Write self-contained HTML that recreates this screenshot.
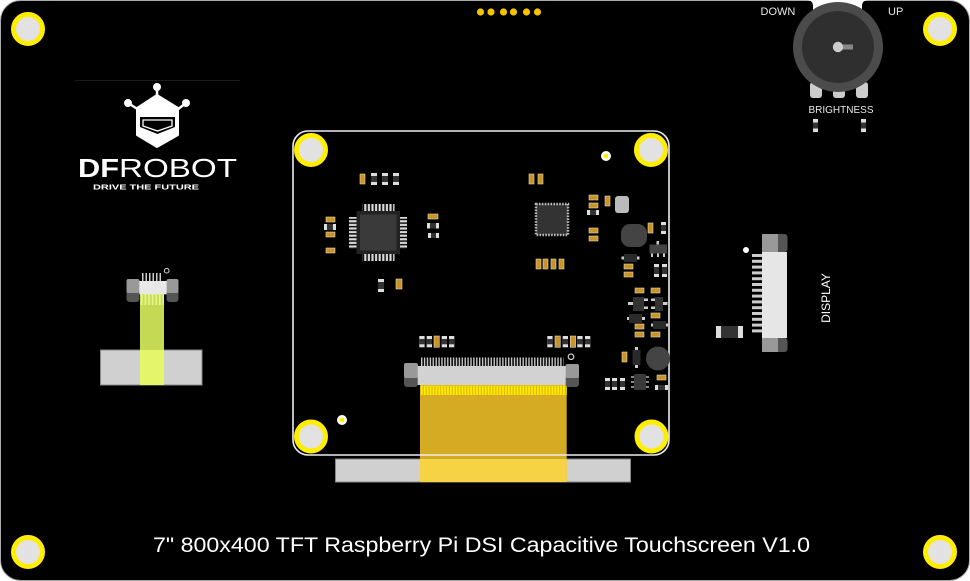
<!DOCTYPE html>
<html><head><meta charset="utf-8"><style>html,body{margin:0;padding:0;background:#fff}svg{display:block}</style></head><body>
<svg width="970" height="581" viewBox="0 0 970 581" xmlns="http://www.w3.org/2000/svg" font-family="'Liberation Sans', Arial, sans-serif">
<defs>
<pattern id="pv" x="0" y="0" width="3.6" height="40" patternUnits="userSpaceOnUse"><rect x="0.6" width="2.2" height="40" fill="#d8d8d8"/></pattern>
<pattern id="ph" x="0" y="0" width="40" height="3.6" patternUnits="userSpaceOnUse"><rect y="0.6" width="40" height="2.2" fill="#d8d8d8"/></pattern>
<pattern id="fp" x="421" y="0" width="2.9" height="20" patternUnits="userSpaceOnUse"><rect width="1.4" height="20" fill="#c8c8c8"/></pattern>
<pattern id="ys" x="421" y="0" width="2.9" height="20" patternUnits="userSpaceOnUse"><rect width="2.9" height="20" fill="#e0b800"/><rect width="1.7" height="20" fill="#ffee00"/></pattern>
<pattern id="gs" x="141" y="0" width="3.6" height="20" patternUnits="userSpaceOnUse"><rect width="3.6" height="20" fill="#c9dc55"/><rect width="1.6" height="20" fill="#e9f58a"/></pattern>
</defs>

<!-- board -->
<rect x="0.5" y="0.5" width="969" height="580" rx="20" fill="#000" stroke="#aaa" stroke-width="1"/>
<path d="M806,0 Q813,0 813,6 L813,14 L862,14 L862,6 Q862,0 869,0 Z" fill="#fff"/>

<!-- top dots -->
<g fill="#f5c400">
<circle cx="480.5" cy="12" r="3.6"/><circle cx="491" cy="12" r="3.6"/><circle cx="503.5" cy="12" r="3.6"/><circle cx="513.5" cy="12" r="3.6"/><circle cx="526.5" cy="12" r="3.6"/><circle cx="537.5" cy="12" r="3.6"/>
</g>

<!-- mounting holes -->
<g fill="#e2e2e2" stroke="#ffee00" stroke-width="5">
<circle cx="28" cy="29" r="14.5"/><circle cx="940" cy="29" r="14.5"/>
<circle cx="28" cy="552" r="14.5"/><circle cx="940" cy="552" r="14.5"/>
</g>

<!-- potentiometer -->
<g>
<rect x="810" y="82" width="12" height="16" rx="3" fill="#ccc"/>
<rect x="833" y="82" width="12" height="16" rx="3" fill="#ccc"/>
<rect x="856" y="82" width="12" height="16" rx="3" fill="#ccc"/>
<circle cx="838" cy="47" r="45" fill="#4b4b4b"/>
<circle cx="838" cy="47" r="36" fill="#2f2f2f"/>
<rect x="838" y="44.5" width="15" height="5" fill="#888"/>
<circle cx="838" cy="47" r="5.2" fill="#ccc"/>
</g>
<text x="760.5" y="15" font-size="11" fill="#e6e6e6">DOWN</text>
<text x="888" y="15" font-size="11" fill="#e6e6e6">UP</text>
<text x="841" y="113" font-size="10" fill="#e6e6e6" text-anchor="middle">BRIGHTNESS</text>
<rect x="813" y="119" width="5" height="13" fill="#ddd"/><rect x="813" y="122.5" width="5" height="6" fill="#333"/>
<rect x="861" y="119" width="5" height="13" fill="#ddd"/><rect x="861" y="122.5" width="5" height="6" fill="#333"/>

<!-- DFROBOT logo -->
<line x1="75" y1="80.5" x2="240" y2="80.5" stroke="#1c1c1c"/>
<g fill="#fff" stroke="#fff">
<line x1="157" y1="88" x2="157" y2="96" stroke-width="2.5"/>
<line x1="128" y1="103" x2="139" y2="110" stroke-width="2.5"/>
<line x1="186" y1="103" x2="177" y2="110" stroke-width="2.5"/>
<circle cx="157" cy="87" r="4" stroke="none"/>
<circle cx="128" cy="103" r="4" stroke="none"/>
<circle cx="186" cy="103" r="4" stroke="none"/>
<path d="M157,95 L178,108 L178,135 L157,147 L137,135 L137,108 Z" stroke-width="2" stroke-linejoin="round"/>
</g>
<path d="M140,117 H175 V127 L157.5,134 L140,127 Z" fill="#000"/>
<path d="M143,120 H172 V126 L157.5,131 L143,126 Z" fill="none" stroke="#fff" stroke-width="1.3"/>
<text x="78" y="177" font-size="26" font-weight="bold" fill="#fff" textLength="41" lengthAdjust="spacingAndGlyphs">DF</text>
<text x="119" y="177" font-size="26" fill="#fff" textLength="118" lengthAdjust="spacingAndGlyphs">ROBOT</text>
<text x="93" y="189.5" font-size="7.5" font-weight="bold" fill="#fff" textLength="106" lengthAdjust="spacingAndGlyphs">DRIVE THE FUTURE</text>

<!-- left touch connector -->
<rect x="100.5" y="350" width="101.5" height="35" fill="#d0d0d0" stroke="#888" stroke-width="1"/>
<rect x="140" y="294" width="24" height="56" fill="#c5d955"/>
<rect x="140" y="294" width="24" height="11" fill="url(#gs)"/>
<rect x="140" y="350" width="24" height="35" fill="#e4f56a"/>
<g fill="#ccc">
<rect x="142" y="273" width="1.5" height="8"/><rect x="145.5" y="273" width="1.5" height="8"/><rect x="149" y="273" width="1.5" height="8"/><rect x="152.5" y="273" width="1.5" height="8"/><rect x="156" y="273" width="1.5" height="8"/><rect x="159.5" y="273" width="1.5" height="8"/>
</g>
<rect x="126.5" y="279" width="13" height="23" rx="3" fill="#555"/>
<rect x="126.5" y="279" width="13" height="14" rx="2" fill="#999"/>
<rect x="166.5" y="279" width="12" height="23" rx="3" fill="#555"/>
<rect x="166.5" y="279" width="12" height="14" rx="2" fill="#999"/>
<rect x="139.3" y="281" width="27.4" height="13.3" fill="#e8e8e8"/>
<circle cx="166.7" cy="270.7" r="2.3" fill="none" stroke="#ddd" stroke-width="1"/>

<!-- right display connector -->
<circle cx="746" cy="250" r="3" fill="#fff"/>
<g fill="#ccc">
<rect x="752" y="254" width="10" height="3"/><rect x="752" y="259.8" width="10" height="3"/><rect x="752" y="265.6" width="10" height="3"/><rect x="752" y="271.4" width="10" height="3"/><rect x="752" y="277.2" width="10" height="3"/><rect x="752" y="283" width="10" height="3"/><rect x="752" y="288.8" width="10" height="3"/><rect x="752" y="294.6" width="10" height="3"/><rect x="752" y="300.4" width="10" height="3"/><rect x="752" y="306.2" width="10" height="3"/><rect x="752" y="312" width="10" height="3"/><rect x="752" y="317.8" width="10" height="3"/><rect x="752" y="323.6" width="10" height="3"/><rect x="752" y="329.4" width="10" height="3"/>
</g>
<rect x="762" y="252" width="25" height="86" fill="#e6e6e6"/>
<rect x="770" y="234" width="17.5" height="18" rx="3" fill="#555"/>
<rect x="762" y="234" width="16" height="18" fill="#999"/>
<rect x="770" y="338" width="17.5" height="14" rx="3" fill="#555"/>
<rect x="762" y="338" width="16" height="14" fill="#999"/>
<rect x="716" y="326" width="27" height="12" fill="#ddd"/><rect x="721" y="326" width="17" height="12" fill="#333"/>
<text transform="translate(830,298) rotate(-90)" font-size="12" fill="#fff" text-anchor="middle">DISPLAY</text>

<!-- bottom ribbon / FPC -->
<rect x="335.5" y="459" width="295" height="23" fill="#d0d0d0" stroke="#888" stroke-width="1"/>
<rect x="420" y="385" width="146.7" height="97" fill="#d4ab22"/>
<rect x="420" y="459" width="146.7" height="23" fill="#f6d245"/>
<rect x="420" y="385.5" width="146.7" height="9.5" fill="url(#ys)"/>
<rect x="421" y="357.5" width="142.5" height="9" fill="url(#fp)"/>
<rect x="404" y="363" width="14" height="24" rx="3" fill="#555"/>
<rect x="404" y="363" width="14" height="15" rx="2" fill="#999"/>
<rect x="565.5" y="364" width="13.5" height="23" rx="3" fill="#555"/>
<rect x="565.5" y="364" width="13.5" height="14" rx="2" fill="#999"/>
<rect x="417.7" y="366" width="148" height="19" fill="#d2d2d2"/>
<circle cx="571" cy="356.7" r="2.8" fill="none" stroke="#ddd" stroke-width="1.1"/>

<!-- inner board outline -->
<rect x="293" y="131" width="376" height="324" rx="15" fill="none" stroke="#eee" stroke-width="1.6"/>

<!-- inner holes -->
<g fill="#e2e2e2" stroke="#ffee00" stroke-width="5">
<circle cx="311" cy="150" r="14.5"/><circle cx="651" cy="150" r="14.5"/>
<circle cx="311" cy="436.5" r="14.5"/><circle cx="651.5" cy="436.5" r="14.5"/>
</g>
<circle cx="606" cy="156" r="5" fill="#fff"/><circle cx="606" cy="156" r="2.4" fill="#ffee00"/>
<circle cx="342" cy="420" r="5" fill="#fff"/><circle cx="342" cy="420" r="2.4" fill="#ffee00"/>

<!-- MCU -->
<rect x="362.5" y="204" width="32" height="7.5" fill="url(#pv)"/>
<rect x="362.5" y="254" width="32" height="7" fill="url(#pv)"/>
<rect x="349" y="217" width="8" height="32" fill="url(#ph)"/>
<rect x="400" y="217" width="7" height="32" fill="url(#ph)"/>
<rect x="356.5" y="211" width="43.5" height="43" fill="#222"/>
<rect x="360" y="214.5" width="36.5" height="36" fill="#3a3a3a"/>

<!-- QFN -->
<rect x="536" y="204" width="32" height="31" fill="#333" stroke="#bbb" stroke-width="2.5" stroke-dasharray="1.6 1.3"/>

<!-- grey vertical resistors -->
<g>
<g fill="#ddd">
<rect x="371" y="173" width="6" height="12"/><rect x="382" y="173" width="6" height="12"/><rect x="393" y="173" width="6" height="12"/>
<rect x="378" y="279" width="6" height="13"/>
<rect x="661" y="222" width="5" height="12"/>
<rect x="654" y="264" width="5" height="13"/><rect x="662" y="264" width="5" height="13"/>
<rect x="605" y="378" width="5" height="12"/><rect x="612" y="378" width="5" height="12"/><rect x="620" y="378" width="5" height="12"/>
<rect x="419.3" y="336" width="5.3" height="11.3"/><rect x="426.7" y="336" width="5.3" height="11.3"/><rect x="441.7" y="336" width="5.3" height="11.3"/><rect x="449" y="336" width="5.3" height="11.3"/>
<rect x="547.3" y="336" width="5.3" height="11.3"/><rect x="562.7" y="336" width="5.3" height="11.3"/><rect x="577.3" y="336" width="5.3" height="11.3"/><rect x="585" y="336" width="5.3" height="11.3"/>
</g>
<g fill="#333">
<rect x="371" y="176" width="6" height="6"/><rect x="382" y="176" width="6" height="6"/><rect x="393" y="176" width="6" height="6"/>
<rect x="378" y="282" width="6" height="7"/>
<rect x="661" y="225" width="5" height="6"/>
<rect x="654" y="267" width="5" height="7"/><rect x="662" y="267" width="5" height="7"/>
<rect x="605" y="381" width="5" height="6"/><rect x="612" y="381" width="5" height="6"/><rect x="620" y="381" width="5" height="6"/>
<rect x="419.3" y="339" width="5.3" height="5.3"/><rect x="426.7" y="339" width="5.3" height="5.3"/><rect x="441.7" y="339" width="5.3" height="5.3"/><rect x="449" y="339" width="5.3" height="5.3"/>
<rect x="547.3" y="339" width="5.3" height="5.3"/><rect x="562.7" y="339" width="5.3" height="5.3"/><rect x="577.3" y="339" width="5.3" height="5.3"/><rect x="585" y="339" width="5.3" height="5.3"/>
</g>
</g>

<!-- grey horizontal resistors -->
<g fill="#ddd">
<rect x="324" y="224" width="12" height="6"/><rect x="427" y="223" width="12" height="5.5"/><rect x="428" y="233" width="11" height="5"/>
<rect x="587" y="210" width="12" height="5"/><rect x="655" y="385" width="13" height="5"/>
</g>
<g fill="#333">
<rect x="327" y="224" width="6" height="6"/><rect x="430" y="223" width="6" height="5.5"/><rect x="431" y="233" width="5" height="5"/>
<rect x="590" y="210" width="6" height="5"/><rect x="658" y="385" width="7" height="5"/>
</g>

<!-- gold capacitors -->
<g fill="#c9932b" stroke="#e8d8b0" stroke-width="0.6">
<rect x="360" y="174" width="5" height="10"/>
<rect x="326" y="217" width="9" height="5"/><rect x="326" y="232" width="9" height="5"/><rect x="326" y="248" width="9" height="5"/>
<rect x="428" y="214" width="10" height="5"/>
<rect x="396" y="279" width="6" height="10"/>
<rect x="529" y="174" width="5" height="10"/><rect x="538" y="174" width="5" height="10"/>
<rect x="589" y="195" width="9" height="5"/><rect x="589" y="203" width="9" height="5"/>
<rect x="605" y="196" width="5" height="10"/>
<rect x="589" y="228" width="9" height="5"/><rect x="589" y="236" width="9" height="5"/>
<rect x="536" y="259" width="5" height="10"/><rect x="543" y="259" width="5" height="10"/><rect x="551" y="259" width="5" height="10"/><rect x="559" y="259" width="5" height="10"/>
<rect x="648" y="223" width="5" height="10"/>
<rect x="624" y="264" width="9" height="5"/><rect x="624" y="272" width="9" height="5"/>
<rect x="635" y="288" width="9" height="5"/><rect x="651" y="288" width="9" height="5"/>
<rect x="651" y="313" width="9" height="5"/>
<rect x="635" y="324" width="9" height="5"/>
<rect x="635" y="332" width="9" height="5"/><rect x="651" y="332" width="9" height="5"/>
<rect x="622" y="352" width="5" height="10"/>
<rect x="657" y="375" width="9" height="5"/>
<rect x="434" y="336" width="5.3" height="11.3"/>
<rect x="555" y="336" width="5.3" height="11.3"/><rect x="570.3" y="336" width="5.3" height="11.3"/>
</g>

<!-- misc parts -->
<rect x="615" y="196" width="14" height="17" rx="3" fill="#bbb"/>
<rect x="621" y="224" width="26" height="23" rx="9" fill="#444"/>
<!-- SOT -->
<g fill="#ccc">
<rect x="656.5" y="241" width="2.5" height="4"/>
<rect x="651" y="253" width="2" height="4"/><rect x="657" y="253" width="2" height="4"/><rect x="663" y="253" width="2" height="4"/>
</g>
<rect x="649.5" y="244.5" width="17.5" height="9" fill="#444"/>
<!-- diodes -->
<rect x="621.5" y="256.5" width="18" height="3" fill="#ccc"/>
<rect x="624" y="254" width="13" height="8" fill="#2a2a2a"/>
<rect x="627" y="317" width="18" height="3" fill="#ccc"/>
<rect x="629" y="314" width="13" height="9" fill="#2a2a2a"/>
<rect x="651" y="323.5" width="17" height="3" fill="#ccc"/>
<rect x="653" y="321" width="13" height="8" fill="#2a2a2a"/>
<rect x="635" y="347" width="3" height="21" fill="#ccc"/>
<rect x="632.5" y="350" width="8" height="15" fill="#2a2a2a"/>
<!-- small transistors -->
<g fill="#ccc">
<rect x="628" y="302" width="5" height="3"/><rect x="644" y="298.5" width="4" height="2.5"/><rect x="644" y="306.5" width="4" height="2.5"/>
<rect x="651" y="298.5" width="4" height="2.5"/><rect x="651" y="306.5" width="4" height="2.5"/><rect x="663" y="302" width="4.5" height="3"/>
</g>
<rect x="633" y="297" width="11" height="14" fill="#333"/>
<rect x="655" y="297" width="8" height="14" fill="#333"/>
<circle cx="658" cy="358.5" r="12" fill="#444"/>
<!-- SOIC -->
<g fill="#888">
<rect x="631" y="376" width="4" height="2"/><rect x="631" y="381" width="4" height="2"/><rect x="631" y="386" width="4" height="2"/>
<rect x="645" y="376" width="4" height="2"/><rect x="645" y="381" width="4" height="2"/><rect x="645" y="386" width="4" height="2"/>
</g>
<rect x="634" y="374" width="12" height="16" rx="1.5" fill="#3a3a3a"/>

<!-- title -->
<text x="481.5" y="552" font-size="21" fill="#fff" text-anchor="middle" textLength="657" lengthAdjust="spacingAndGlyphs">7&quot; 800x400 TFT Raspberry Pi DSI Capacitive Touchscreen V1.0</text>
</svg>
</body></html>
